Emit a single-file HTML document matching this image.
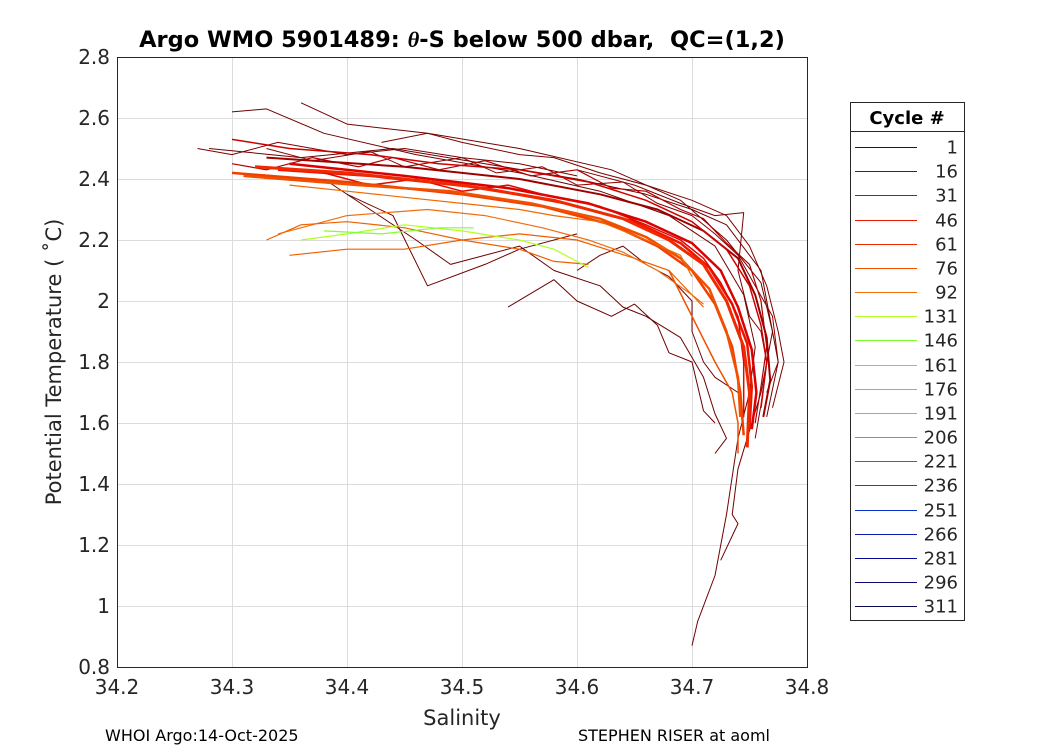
<!DOCTYPE html>
<html><head><meta charset="utf-8"><style>
body{margin:0;background:#fff}
svg text{font-family:"DejaVu Sans","Liberation Sans",sans-serif}
</style></head><body>
<svg id="chart" width="1050" height="750" xmlns="http://www.w3.org/2000/svg">
<rect width="1050" height="750" fill="#fff"/>
<g id="grid"></g>
<g id="series"></g>
<rect x="117.5" y="57.5" width="690" height="610" fill="none" stroke="#262626" stroke-width="1"/>
<g id="ticks"></g>
<text x="462" y="47" text-anchor="middle" font-size="22.5" font-weight="bold" xml:space="preserve">Argo WMO 5901489: <tspan font-style="italic" font-family="Liberation Serif">θ</tspan>-S below 500 dbar,  QC=(1,2)</text>
<text x="462" y="725" text-anchor="middle" font-size="21" fill="#262626">Salinity</text>
<text transform="translate(61,362) rotate(-90)" text-anchor="middle" font-size="21" fill="#262626">Potential Temperature ( ˚C)</text>
<text x="105" y="741" font-size="16">WHOI Argo:14-Oct-2025</text>
<text x="578" y="741" font-size="16">STEPHEN RISER at aoml</text>
<g id="legend">
<rect x="850.5" y="102.5" width="114" height="518" fill="#fff" stroke="#262626"/>
<line x1="850" y1="131.5" x2="964" y2="131.5" stroke="#262626"/>
<text x="907" y="124" text-anchor="middle" font-size="18" font-weight="bold">Cycle #</text>
</g>
</svg>
<script>
const xTicks=[34.2,34.3,34.4,34.5,34.6,34.7,34.8];
const yTicks=[0.8,1,1.2,1.4,1.6,1.8,2,2.2,2.4,2.6,2.8];
const yTickLabels=["0.8","1","1.2","1.4","1.6","1.8","2","2.2","2.4","2.6","2.8"];
const legendCycles=["1","16","31","46","61","76","92","131","146","161","176","191","206","221","236","251","266","281","296","311"];
const legendColors=["#5a0000","#990000","#dd0000","#ee1500","#f02a00","#f05000","#f07010","#b0ff20","#80ff30","#30ff50","#00ff90","#00f0d0","#00c0ff","#1a70e0","#1050d0","#0a30c8","#0818b0","#0a0a9a","#0a0a70","#0a0a50"];
const p01=[34.32,2.44,34.40,2.42,34.50,2.38,34.58,2.33,34.64,2.27,34.68,2.20,34.71,2.12,34.73,2.00,34.745,1.85,34.75,1.70,34.748,1.52];
const p02=[34.35,2.45,34.45,2.41,34.54,2.37,34.61,2.32,34.66,2.26,34.70,2.19,34.725,2.10,34.74,1.98,34.752,1.84,34.756,1.70,34.752,1.58];
const p03=[34.30,2.42,34.40,2.39,34.50,2.35,34.57,2.31,34.63,2.25,34.67,2.18,34.70,2.10,34.72,1.99,34.735,1.85,34.742,1.70,34.745,1.56];
const p04=[34.33,2.47,34.45,2.44,34.55,2.40,34.62,2.35,34.67,2.30,34.71,2.23,34.74,2.14,34.755,2.02,34.765,1.88,34.768,1.74,34.762,1.62];
const p05=[34.28,2.50,34.36,2.47,34.44,2.50,34.52,2.45,34.60,2.40,34.66,2.35,34.70,2.30,34.73,2.25,34.76,2.10,34.77,1.90,34.775,1.80,34.765,1.62];
const p06=[34.30,2.62,34.33,2.63,34.38,2.55,34.46,2.48,34.55,2.42,34.62,2.36,34.68,2.28,34.72,2.18,34.745,2.02,34.755,1.85,34.75,1.70,34.74,1.55,34.73,1.30,34.72,1.10,34.705,0.95,34.70,0.87];
const p07=[34.36,2.65,34.40,2.58,34.47,2.55,34.55,2.50,34.63,2.43,34.69,2.33,34.73,2.20,34.76,2.06,34.77,1.90,34.76,1.70,34.74,1.45,34.735,1.30,34.74,1.27,34.725,1.15];
const p08=[34.38,2.40,34.42,2.30,34.46,2.20,34.49,2.12,34.55,2.18,34.58,2.10,34.62,2.05,34.64,1.98,34.66,1.95,34.69,1.88,34.71,1.75,34.72,1.63,34.73,1.55,34.72,1.50];
const p09=[34.60,2.10,34.62,2.15,34.64,2.18,34.66,2.12,34.68,2.08,34.70,2.00,34.70,1.90,34.71,1.80,34.72,1.75,34.74,1.70];
const p10=[34.54,1.98,34.58,2.07,34.60,2.00,34.63,1.95,34.65,1.99,34.67,1.92,34.68,1.83,34.70,1.80,34.71,1.64,34.72,1.60];
const p11=[34.35,2.15,34.40,2.17,34.45,2.17,34.50,2.20,34.55,2.22,34.60,2.20,34.65,2.14,34.68,2.10,34.71,1.98];
const p12=[34.34,2.22,34.40,2.28,34.47,2.30,34.52,2.28,34.57,2.24,34.61,2.20,34.64,2.16,34.67,2.10,34.70,2.02,34.71,1.99];
const p13=[34.36,2.20,34.40,2.22,34.45,2.25,34.50,2.23,34.55,2.20,34.58,2.17,34.61,2.11];
const p14=[34.38,2.23,34.43,2.22,34.48,2.24,34.51,2.24];
const p15=[34.33,2.20,34.36,2.25,34.40,2.26,34.45,2.24,34.50,2.20,34.55,2.17,34.58,2.13,34.61,2.12];
const p16=[34.68,2.10,34.70,1.95,34.72,1.80,34.735,1.70,34.74,1.60,34.74,1.50];
const p17=[34.27,2.50,34.30,2.48,34.34,2.52,34.40,2.48,34.45,2.50,34.50,2.47,34.55,2.45,34.60,2.41];
const p18=[34.30,2.53,34.35,2.50,34.42,2.48,34.48,2.45,34.55,2.43,34.61,2.39,34.66,2.33,34.70,2.26,34.73,2.17,34.75,2.05,34.76,1.92,34.765,1.80,34.76,1.65];
const p19=[34.60,2.43,34.65,2.38,34.69,2.32,34.72,2.28,34.745,2.29,34.74,2.10,34.75,1.95,34.76,1.90,34.765,1.80,34.76,1.66,34.755,1.55];
const p20=[34.40,2.35,34.44,2.28,34.47,2.05,34.52,2.12,34.55,2.17,34.60,2.22];
const p21=[34.34,2.43,34.42,2.41,34.52,2.37,34.59,2.32,34.65,2.26,34.69,2.19,34.715,2.11,34.735,1.99,34.748,1.86,34.752,1.72,34.75,1.58];
const p22=[34.31,2.41,34.41,2.38,34.49,2.36,34.56,2.32,34.62,2.27,34.66,2.21,34.69,2.14,34.715,2.04,34.73,1.90,34.74,1.75,34.742,1.62];
const p23=[34.30,2.45,34.33,2.43,34.37,2.47,34.41,2.44,34.44,2.47,34.48,2.43,34.52,2.46,34.56,2.41,34.60,2.43,34.63,2.37,34.66,2.36,34.69,2.30,34.71,2.27,34.73,2.19,34.75,2.12,34.76,2.00,34.765,1.85,34.76,1.72,34.755,1.60];
const p24=[34.33,2.50,34.37,2.46,34.42,2.49,34.45,2.44,34.50,2.47,34.53,2.42,34.57,2.44,34.60,2.38,34.64,2.39,34.67,2.32,34.70,2.28,34.72,2.22,34.74,2.15,34.755,2.05,34.77,1.95,34.775,1.80,34.765,1.70];
const p25=[34.38,2.42,34.42,2.38,34.46,2.40,34.50,2.36,34.54,2.38,34.58,2.34,34.62,2.31,34.66,2.25,34.69,2.20,34.71,2.14,34.725,2.06,34.74,1.95,34.745,1.80,34.745,1.62];
const p26=[34.43,2.52,34.47,2.55,34.50,2.52,34.55,2.48,34.58,2.47,34.62,2.42,34.66,2.38,34.70,2.33,34.73,2.28,34.75,2.18,34.765,2.05,34.775,1.90,34.78,1.80,34.77,1.65];
const p27=[34.35,2.38,34.40,2.36,34.45,2.34,34.50,2.32,34.55,2.30,34.58,2.28,34.62,2.26,34.66,2.20,34.69,2.15,34.70,2.08];
const profiles=[p05,p06,p07,p08,p09,p10,p17,p19,p20,p24,p26,p23,p04,p18,p02,p21,p25,p01,p03,p22,p11,p12,p15,p27,p16,p13,p14];
const profileColors=["#700000","#700000","#700000","#6a0000","#700000","#6a0000","#800000","#800000","#700000","#8a0000","#800000","#b00000","#a00000","#cc0000","#dd0000","#ee1500","#e00800","#f02a00","#f04000","#f05000","#f06000","#f07010","#f06000","#f06a00","#f05000","#b0ff20","#80ff30"];
const profileWidths=[1,1,1,1,1,1,1,1,1,1,1,1.2,2,1.5,2.5,2.5,1.5,3,2.5,2.5,1.2,1.2,1.2,1.2,1.5,1.2,1.2];
const X=s=>117+(s-34.2)/0.6*690;
const Y=t=>667-(t-0.8)/2.0*610;
const NS="http://www.w3.org/2000/svg";
function mk(tag,attrs,parent){const e=document.createElementNS(NS,tag);for(const k in attrs)e.setAttribute(k,attrs[k]);parent.appendChild(e);return e;}
const grid=document.getElementById('grid'),ticks=document.getElementById('ticks'),series=document.getElementById('series'),legend=document.getElementById('legend');
xTicks.forEach((v,i)=>{
 const x=Math.round(X(v))+0.5;
 const g=mk('line',{x1:x,x2:x,y1:57,y2:667,stroke:'#dcdcdc'},grid);
 
 
 const t=mk('text',{x:X(v),y:694,'text-anchor':'middle','font-size':'20',fill:'#262626'},ticks);
 t.textContent=v.toFixed(1);
 
 
});
yTicks.forEach((v,i)=>{
 const y=Math.round(Y(v))+0.5;
 const g=mk('line',{x1:117,x2:807,y1:y,y2:y,stroke:'#dcdcdc'},grid);
 
 
 const t=mk('text',{x:110,y:Y(v)+7,'text-anchor':'end','font-size':'20',fill:'#262626'},ticks);
 t.textContent=yTickLabels[i];
 
 
});
profiles.forEach((p,i)=>{
 let pts=[];for(let j=0;j<p.length;j+=2)pts.push(X(p[j]).toFixed(1)+','+Y(p[j+1]).toFixed(1));
 const l=mk('polyline',{points:pts.join(' '),fill:'none',stroke:profileColors[i],'stroke-width':profileWidths[i],'stroke-linejoin':'round'},series);
 
 
});
legendCycles.forEach((c,i)=>{
 const y=Math.round(147+i*24.17)+0.5;
 const l=mk('line',{x1:855,x2:917,y1:y,y2:y,stroke:legendColors[i],'stroke-width':1},legend);
 
 
 const t=mk('text',{x:958,y:y+6,'text-anchor':'end','font-size':'18',fill:'#262626'},legend);
 t.textContent=c;
 
 
});
</script>
</body></html>
